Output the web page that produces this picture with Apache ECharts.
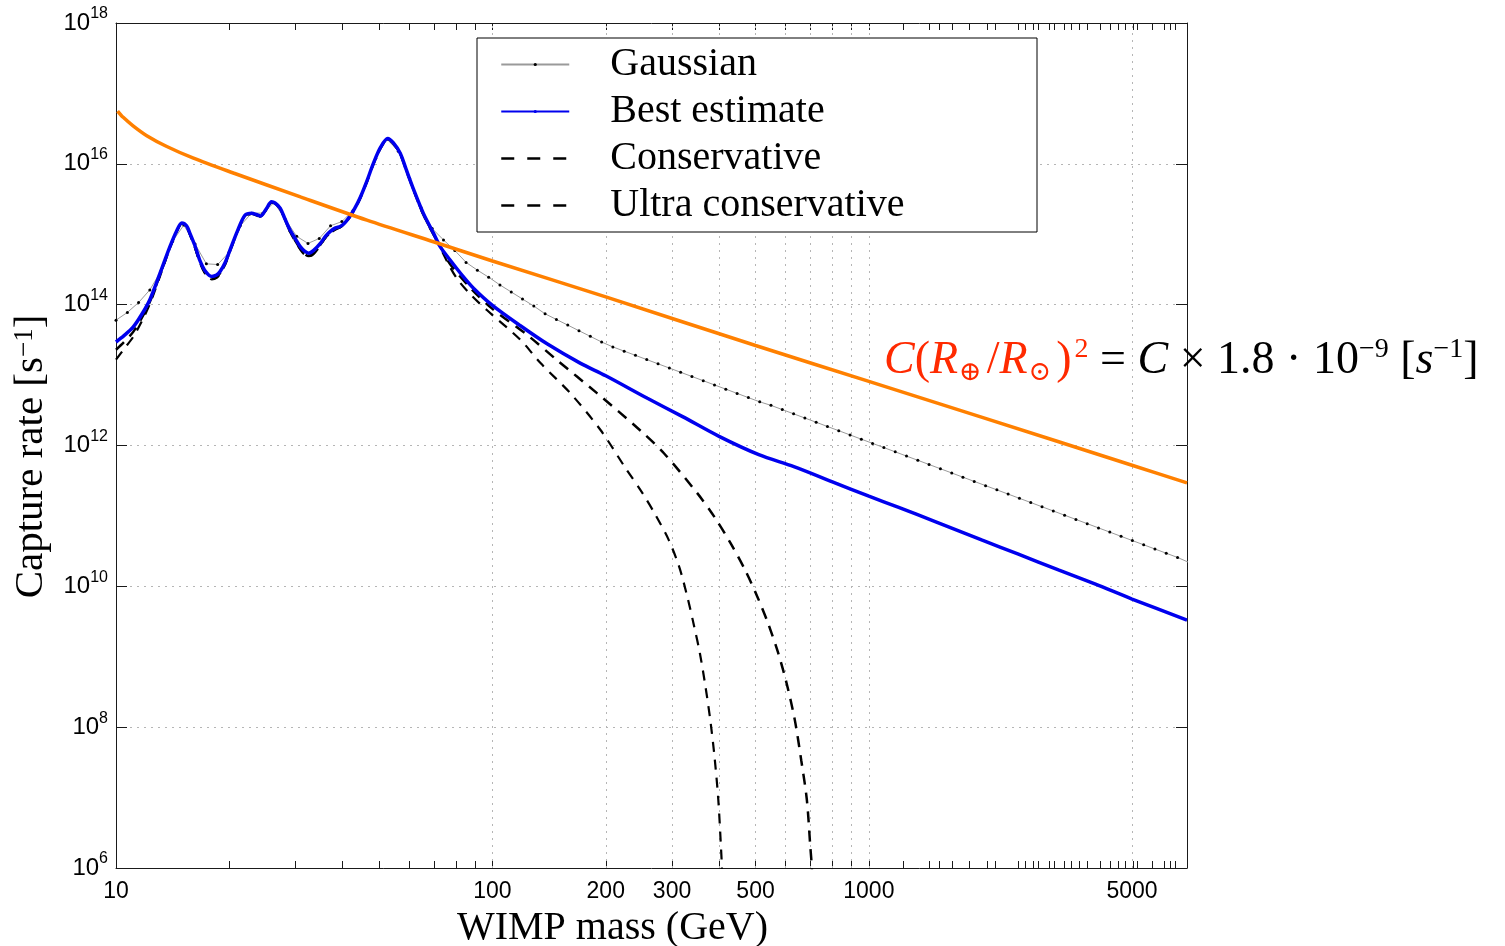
<!DOCTYPE html>
<html>
<head>
<meta charset="utf-8">
<script src="https://cdn.jsdelivr.net/npm/echarts@6/dist/echarts.min.js"></script>
<style>
html,body{margin:0;padding:0;background:#ffffff;}
#chart{width:1505px;height:946px;}
</style>
</head>
<body>
<div id="chart"></div>
<script>
// ---- Data (WIMP mass in GeV, capture rate as log10 of s^-1) ----
const gaussMass = [
  10.00, 10.72, 11.48, 12.30, 13.18, 14.13, 15.14, 16.22, 17.38, 18.62,
  19.95, 21.38, 22.91, 24.55, 26.30, 28.18, 30.20, 32.36, 34.67, 37.15,
  39.81, 42.66, 45.71, 48.98, 52.48, 56.23, 60.26, 64.57, 69.18, 74.13,
  79.43, 85.11, 91.20, 97.72, 104.7, 112.2, 120.2, 128.8, 138.0, 147.9,
  158.5, 169.8, 182.0, 195.0, 208.9, 223.9, 239.9, 257.0, 275.4, 295.1,
  316.2, 338.8, 363.1, 389.0, 416.9, 446.7, 478.6, 512.9, 549.5, 588.8,
  631.0, 676.1, 724.4, 776.2, 831.8, 891.3, 955.0, 1023, 1096, 1175,
  1259, 1349, 1445, 1549, 1660, 1778, 1905, 2042, 2188, 2344,
  2512, 2692, 2884, 3090, 3311, 3548, 3802, 4074, 4365, 4677,
  5012, 5370, 5754, 6166, 6607, 7079
];
const gaussLog10 = [
  13.78, 13.89, 14.03, 14.21, 14.48, 14.90, 15.13, 14.86, 14.58, 14.57,
  14.74, 15.12, 15.30, 15.30, 15.45, 15.21, 14.97, 14.87, 14.94, 15.12,
  15.18, 15.34, 15.67, 16.08, 16.35, 16.18, 15.79, 15.38, 15.08, 14.92,
  14.77, 14.60, 14.49, 14.39, 14.28, 14.18, 14.08, 13.98, 13.87, 13.79,
  13.71, 13.63, 13.55, 13.47, 13.40, 13.34, 13.28, 13.22, 13.16, 13.10,
  13.04, 12.98, 12.92, 12.86, 12.80, 12.74, 12.68, 12.62, 12.57, 12.51,
  12.45, 12.39, 12.33, 12.27, 12.21, 12.15, 12.09, 12.03, 11.97, 11.91,
  11.85, 11.79, 11.73, 11.67, 11.61, 11.55, 11.49, 11.43, 11.37, 11.31,
  11.25, 11.19, 11.13, 11.07, 11.01, 10.95, 10.89, 10.83, 10.77, 10.71,
  10.65, 10.59, 10.53, 10.47, 10.41, 10.34
];

const bestMass = [
  10, 10.5, 11.1, 11.7, 12.3, 13.1, 13.9, 14.5, 14.95, 15.4,
  15.7, 16.2, 16.7, 17.3, 17.97, 18.5, 18.9, 19.5, 20.1, 21.0,
  22.0, 22.96, 23.6, 24.2, 25.0, 25.9, 26.5, 27.3, 28.1, 29.0,
  30.0, 30.9, 31.7, 32.5, 33.5, 34.9, 36.0, 37.1, 38.3, 39.4,
  40.5, 41.5, 43.0, 44.6, 46.5, 48.3, 50.5, 52.7, 54.5, 56.9,
  59.0, 61.8, 65.5, 69.8, 72.7, 77.3, 83, 89.2, 100, 118.7,
  140, 171, 200, 258, 320, 400, 510, 632, 800, 1000,
  1200, 1500, 2000, 2486, 3200, 4000, 5000, 7000
];
const bestLog10 = [
  13.47, 13.56, 13.68, 13.86, 14.07, 14.45, 14.82, 15.05, 15.16, 15.12,
  15.02, 14.84, 14.63, 14.47, 14.40, 14.42, 14.47, 14.60, 14.78, 15.04,
  15.27, 15.30, 15.28, 15.26, 15.35, 15.46, 15.44, 15.37, 15.22, 15.06,
  14.93, 14.82, 14.76, 14.73, 14.77, 14.87, 14.97, 15.04, 15.09, 15.11,
  15.16, 15.23, 15.36, 15.53, 15.77, 16.01, 16.24, 16.36, 16.30, 16.15,
  15.92, 15.63, 15.30, 15.01, 14.82, 14.63, 14.42, 14.23, 13.99, 13.70,
  13.44, 13.17, 12.99, 12.67, 12.41, 12.13, 11.87, 11.70, 11.485, 11.28,
  11.12, 10.92, 10.655, 10.46, 10.23, 10.03, 9.82, 9.52
];

const consMass = [
  10, 10.5, 11.1, 11.7, 12.3, 13.1, 13.9, 14.5, 14.95, 15.4,
  15.7, 16.2, 16.7, 17.3, 17.97, 18.5, 18.9, 19.5, 20.1, 21.0,
  22.0, 22.96, 23.6, 24.2, 25.0, 25.9, 26.5, 27.3, 28.1, 29.0,
  30.0, 30.9, 31.7, 32.5, 33.5, 34.9, 36.0, 37.1, 38.3, 39.4,
  40.5, 41.5, 43.0, 44.6, 46.5, 48.3, 50.5, 52.7, 54.5, 56.9,
  59.0, 61.8, 65.5, 69.8, 73.5, 77.3, 88, 100, 123.7, 148.6,
  189.9, 247.5, 285.5, 350.4, 388.3, 429.5, 469.2, 505.8, 539.8, 574.5,
  604.8, 635.8, 661.2, 684.2, 699, 705.5, 708
];
const consLog10 = [
  13.36, 13.47, 13.61, 13.81, 14.04, 14.43, 14.81, 15.04, 15.15, 15.11,
  15.01, 14.82, 14.61, 14.44, 14.37, 14.39, 14.45, 14.58, 14.77, 15.03,
  15.26, 15.29, 15.27, 15.25, 15.34, 15.45, 15.43, 15.36, 15.21, 15.04,
  14.90, 14.79, 14.72, 14.69, 14.73, 14.85, 14.95, 15.02, 15.07, 15.10,
  15.15, 15.22, 15.35, 15.52, 15.76, 16.00, 16.23, 16.35, 16.29, 16.14,
  15.91, 15.62, 15.28, 14.99, 14.78, 14.57, 14.22, 13.94, 13.57, 13.21,
  12.74, 12.21, 11.89, 11.32, 10.99, 10.61, 10.23, 9.85, 9.475, 9.05,
  8.62, 8.10, 7.53, 6.97, 6.30, 6.00, 5.60
];

const ultraMass = [
  10, 10.5, 11.1, 11.7, 12.3, 13.1, 13.9, 14.5, 14.95, 15.4,
  15.7, 16.2, 16.7, 17.3, 17.97, 18.5, 18.9, 19.5, 20.1, 21.0,
  22.0, 22.96, 23.6, 24.2, 25.0, 25.9, 26.5, 27.3, 28.1, 29.0,
  30.0, 30.9, 31.7, 32.5, 33.5, 34.9, 36.0, 37.1, 38.3, 39.4,
  40.5, 41.5, 43.0, 44.6, 46.5, 48.3, 50.5, 52.7, 54.5, 56.9,
  59.0, 61.8, 65.5, 69.8, 72.5, 76, 80.5, 88, 96.8, 118.7,
  134.2, 161.2, 193.7, 224.4, 250.6, 271.4, 293.9, 313.3, 329.5, 343.5,
  355.7, 368.1, 379.1, 389.0, 398.1, 405.0, 407.1, 409
];
const ultraLog10 = [
  13.22, 13.37, 13.54, 13.76, 14.01, 14.41, 14.80, 15.04, 15.15, 15.11,
  15.00, 14.81, 14.60, 14.43, 14.36, 14.38, 14.44, 14.57, 14.76, 15.03,
  15.26, 15.29, 15.27, 15.25, 15.34, 15.45, 15.43, 15.36, 15.21, 15.03,
  14.89, 14.78, 14.71, 14.68, 14.72, 14.84, 14.95, 15.02, 15.07, 15.10,
  15.15, 15.22, 15.35, 15.52, 15.76, 16.00, 16.23, 16.35, 16.29, 16.14,
  15.91, 15.62, 15.28, 14.99, 14.82, 14.60, 14.37, 14.13, 13.92, 13.50,
  13.17, 12.74, 12.22, 11.70, 11.32, 11.01, 10.66, 10.28, 9.85, 9.43,
  9.05, 8.575, 8.10, 7.58, 6.97, 6.26, 6.00, 5.60
];

// C (R_earth / R_sun)^2 curve
const sunMass = [10.1, 10.45, 11.1, 12.07, 13.6, 16.06, 20.5, 30.9, 46.4, 70, 100, 200, 500, 1000, 2000, 5000, 7000];
const sunLog10 = [16.75, 16.66, 16.54, 16.40, 16.25, 16.08, 15.87, 15.53, 15.20, 14.89, 14.62, 14.11, 13.42, 12.91, 12.40, 11.72, 11.47];

// Axis ticks / labels
const xLabelValues = [10, 100, 200, 300, 500, 1000, 5000];
const xTickValues = [20, 30, 40, 50, 60, 70, 80, 90, 100, 200, 300, 400, 500, 600, 700, 800, 900, 1000,
  1231, 1449, 1535, 1668, 1849, 2062, 2161, 2489, 2609, 2733, 2825, 3005, 3105, 3302, 3458, 3626, 3800,
  4114, 4374, 4583, 4804, 5035, 5160, 5662, 6080, 6310, 6520];
const xGridValues = [100, 200, 300, 400, 500, 600, 700, 800, 900, 1000, 5000];
const yExponents = [6, 8, 10, 12, 14, 16, 18];

const legendNames = ['Gaussian', 'Best estimate', 'Conservative', 'Ultra conservative'];

// ---- Build ----
const pairs = (m, l) => m.map((x, i) => [x, Math.pow(10, l[i])]);
// tiny inset keeps the end ticks inside the axis extent despite float rounding of log()
const yTickValues = yExponents.map(e => Math.pow(10, e) * (e === 18 ? 0.99999 : 1.00001));

const chart = echarts.init(document.getElementById('chart'), null, {renderer: 'canvas'});

const axisLineStyle = {color: '#1a1a1a', width: 1};
const gridDot = {type: [2, 5], color: '#b5b5b5', width: 1};

const option = {
  animation: false,
  backgroundColor: '#ffffff',
  grid: {left: 116, right: 318, top: 23, bottom: 78, containLabel: false, outerBoundsMode: 'none'},
  xAxis: [
    {
      type: 'log', logBase: 10, min: 10, max: 7000,
      name: 'WIMP mass (GeV)', nameLocation: 'middle', nameGap: 40, nameMoveOverlap: false,
      nameTextStyle: {fontFamily: 'Liberation Serif', fontSize: 40, color: '#000', padding: [0, 78, 0, 0]},
      axisLine: {show: true, lineStyle: axisLineStyle},
      axisTick: {show: true, inside: true, length: 7, customValues: xTickValues, lineStyle: {color: '#1a1a1a'}},
      axisLabel: {
        show: true, margin: 12, customValues: xLabelValues, showMinLabel: true, showMaxLabel: true,
        fontFamily: 'Liberation Sans', fontSize: 23, color: '#000',
        formatter: v => String(Math.round(v))
      },
      splitLine: {show: false},
      minorTick: {show: false}
    },
    {
      type: 'log', logBase: 10, min: 10, max: 7000, position: 'top',
      axisLine: {show: true, lineStyle: axisLineStyle},
      axisTick: {show: true, inside: true, length: 7, customValues: xTickValues, lineStyle: {color: '#1a1a1a'}},
      axisLabel: {show: false},
      splitLine: {show: false}
    }
  ],
  yAxis: [
    {
      type: 'log', logBase: 10, min: 1e6, max: 1e18, interval: 2,
      name: 'Capture rate [s{sup|−1}]', nameLocation: 'middle', nameGap: 64, nameRotate: 90, nameMoveOverlap: false,
      nameTextStyle: {
        fontFamily: 'Liberation Serif', fontSize: 41, color: '#000', padding: [0, 22, 0, 0],
        rich: {sup: {fontFamily: 'Liberation Serif', fontSize: 27, verticalAlign: 'top', lineHeight: 26}}
      },
      axisLine: {show: true, lineStyle: axisLineStyle},
      axisTick: {show: true, inside: true, length: 11, customValues: yTickValues, lineStyle: {color: '#1a1a1a'}},
      axisLabel: {
        show: true, margin: 8, customValues: yTickValues, showMinLabel: true, showMaxLabel: true,
        formatter: v => '{b|10}{s|' + Math.round(Math.log10(v)) + '}',
        rich: {
          b: {fontFamily: 'Liberation Sans', fontSize: 24, color: '#000', lineHeight: 34},
          s: {fontFamily: 'Liberation Sans', fontSize: 16, color: '#000', verticalAlign: 'top', lineHeight: 17}
        }
      },
      splitLine: {show: true, lineStyle: gridDot}
    },
    {
      type: 'log', logBase: 10, min: 1e6, max: 1e18, interval: 2, position: 'right',
      axisLine: {show: true, lineStyle: axisLineStyle},
      axisTick: {show: true, inside: true, length: 11, customValues: yTickValues, lineStyle: {color: '#1a1a1a'}},
      axisLabel: {show: false},
      splitLine: {show: false}
    }
  ],
  legend: {
    orient: 'vertical', left: 500, top: 41, padding: 0, itemGap: 0,
    itemWidth: 68, itemHeight: 4, selectedMode: false, z: 6,
    textStyle: {fontFamily: 'Liberation Serif', fontSize: 40, color: '#000', lineHeight: 47, padding: [0, 0, 0, 36]},
    data: [
      {name: legendNames[0]},
      {name: legendNames[1]},
      {name: legendNames[2], itemStyle: {opacity: 0}, lineStyle: {type: [13, 13], width: 2.5}},
      {name: legendNames[3], itemStyle: {opacity: 0}, lineStyle: {type: [13, 13], width: 2.3}}
    ]
  },
  graphic: [
    {
      type: 'rect', z: 5, silent: true,
      shape: {x: 477, y: 38, width: 560, height: 194},
      style: {fill: '#ffffff', stroke: '#000000', lineWidth: 1}
    },
    {
      type: 'text', z: 10, silent: true, x: 884, y: 336,
      style: {
        text: '{ri|C}{r|(}{ri|R}{rs|⊕}{r|/}{ri|R}{rs|⊙}{r|)}{rsup|2}{k| = }{ki|C}{k| × 1.8 · 10}{ksup|−9}{k| [}{ki|s}{ksup|−1}{k|]}',
        verticalAlign: 'top', align: 'left',
        rich: {
          ri: {fontFamily: 'Liberation Serif', fontStyle: 'italic', fontSize: 46, fill: '#ff2a00', lineHeight: 50},
          r: {fontFamily: 'Liberation Serif', fontSize: 46, fill: '#ff2a00', lineHeight: 50},
          rs: {fontFamily: 'DejaVu Serif', fontSize: 27, fill: '#ff2a00', verticalAlign: 'bottom', lineHeight: 28, padding: [0, 5, 0, 1]},
          rsup: {fontFamily: 'Liberation Serif', fontSize: 28, fill: '#ff2a00', verticalAlign: 'top', lineHeight: 27, padding: [0, 0, 0, 3]},
          k: {fontFamily: 'Liberation Serif', fontSize: 46, fill: '#000', lineHeight: 50},
          ki: {fontFamily: 'Liberation Serif', fontStyle: 'italic', fontSize: 46, fill: '#000', lineHeight: 50},
          ksup: {fontFamily: 'Liberation Serif', fontSize: 28, fill: '#000', verticalAlign: 'top', lineHeight: 27}
        }
      }
    }
  ],
  series: [
    {
      name: 'grid-x', type: 'line', data: [], z: 1, silent: true,
      markLine: {
        silent: true, symbol: ['none', 'none'], animation: false, z: 1,
        label: {show: false}, lineStyle: gridDot,
        data: xGridValues.map(v => ({xAxis: v}))
      }
    },
    {
      name: legendNames[0], type: 'line', data: pairs(gaussMass, gaussLog10), z: 2,
      symbol: 'circle', symbolSize: 3, showSymbol: true, showAllSymbol: true,
      itemStyle: {color: '#000000'}, lineStyle: {color: '#9a9a9a', width: 1},
      emphasis: {disabled: true}
    },
    {
      name: legendNames[2], type: 'line', data: pairs(consMass, consLog10), z: 3,
      symbol: 'none', smooth: 0.3, itemStyle: {color: '#000000'},
      lineStyle: {color: '#000000', width: 2.5, type: [11, 8]}, emphasis: {disabled: true}
    },
    {
      name: legendNames[3], type: 'line', data: pairs(ultraMass, ultraLog10), z: 3,
      symbol: 'none', smooth: 0.3, itemStyle: {color: '#000000'},
      lineStyle: {color: '#000000', width: 2.2, type: [10, 8]}, emphasis: {disabled: true}
    },
    {
      name: legendNames[1], type: 'line', data: pairs(bestMass, bestLog10), z: 4,
      symbol: 'none', smooth: 0.3, itemStyle: {color: '#0000ee'},
      lineStyle: {color: '#0000ee', width: 3.5}, emphasis: {disabled: true}
    },
    {
      name: 'C(R⊕/R⊙)²', type: 'line', data: pairs(sunMass, sunLog10), z: 6,
      symbol: 'none', smooth: 0.3, itemStyle: {color: '#ff8000'},
      lineStyle: {color: '#ff8000', width: 3.5}, emphasis: {disabled: true}
    }
  ]
};
chart.setOption(option);
</script>
</body>
</html>
